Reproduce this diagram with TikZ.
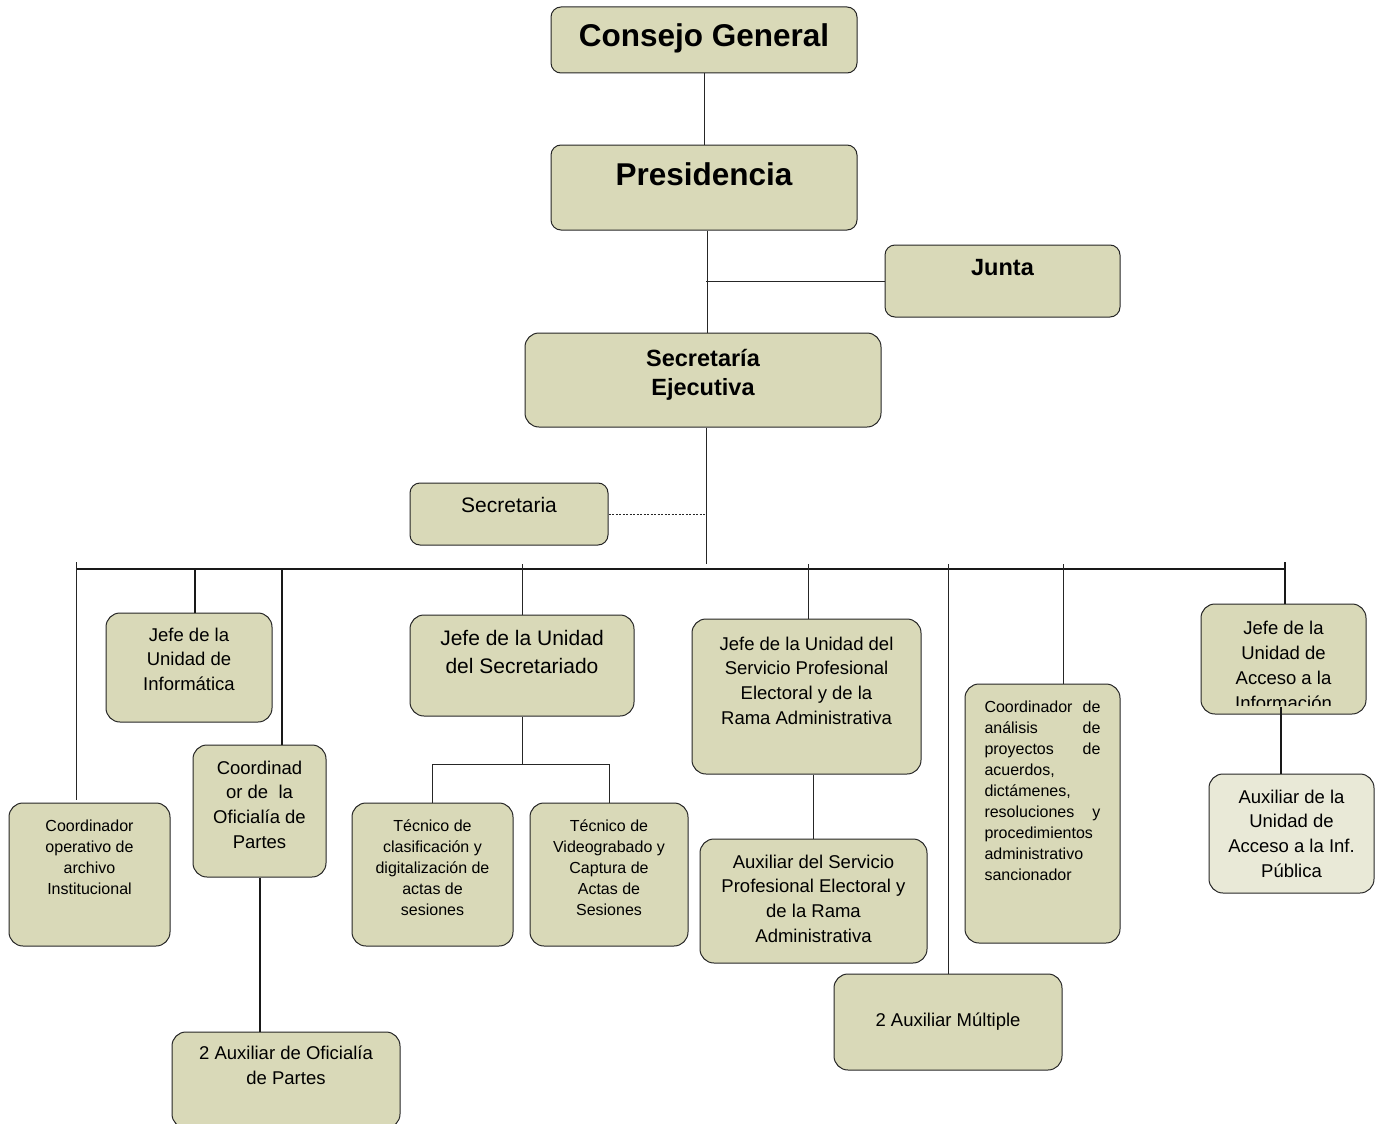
\documentclass[tikz,border=0pt]{standalone}
\usepackage{fontspec}
\setmainfont{Liberation Sans}
\usepackage{xcolor}
\usepackage{tikz}
\usetikzlibrary{positioning,calc}

\definecolor{boxfill}{RGB}{217,217,184}
\definecolor{boxlight}{RGB}{233,233,215}

\begin{document}
\begin{tikzpicture}[x=1pt, y=-1pt,
  ob/.style={draw=black!85, line width=1pt, fill=boxfill, rounded corners=14pt, inner sep=0pt},
  lb/.style={anchor=north, align=center, inner sep=0pt},
  fbig/.style={font=\fontsize{31.5}{38}\selectfont\bfseries},
  fbold/.style={font=\fontsize{23.5}{29}\selectfont\bfseries},
  flarge/.style={font=\fontsize{21}{28}\selectfont},
  fmid/.style={font=\fontsize{18.5}{24.8}\selectfont},
  fsmall/.style={font=\fontsize{16}{21}\selectfont},
  ln/.style={line width=1pt, black!85},
  lnthick/.style={line width=2pt, black!90},
  bus/.style={line width=2.5pt, black!90}]
  \useasboundingbox (0,0) rectangle (1385,1124);

  % upper levels
  \node[ob, rounded corners=10pt, minimum width=306pt, minimum height=66pt,
    label={[lb, fbig, yshift=-17pt]north:Consejo General}] (cg) at (704,40) {};
  \node[ob, rounded corners=10pt, minimum width=306pt, minimum height=85pt,
    label={[lb, fbig, yshift=-18pt]north:Presidencia}] (pres) at (704,187.5) {};
  \node[ob, rounded corners=10pt, minimum width=235pt, minimum height=72pt,
    label={[lb, fbold, yshift=-15pt]north:Junta}] (junta) at (1002.5,281) {};
  \node[ob, minimum width=356pt, minimum height=94pt,
    label={[lb, fbold, yshift=-17pt]north:{Secretaría\\Ejecutiva}}] (sej) at (703,380) {};
  \node[ob, rounded corners=10pt, minimum width=198pt, minimum height=62pt,
    label={[lb, flarge, yshift=-15pt]north:Secretaria}] (sec) at (509,514) {};

  % bus
  \coordinate (busL) at (76,569);
  \coordinate (busR) at (1285,569);
  \coordinate (busT) at (0,564);

  % units
  \node[ob, minimum width=166pt, minimum height=109pt,
    label={[lb, fmid, yshift=-15pt]north:{Jefe de la\\Unidad de\\Informática}}] (inf) at (189,667.5) {};
  \node[ob, minimum width=133pt, minimum height=132pt,
    label={[lb, fmid, yshift=-16pt]north:{Coordinad\\or de~ la\\Oficialía de\\Partes}}] (ofi) at (259.5,811) {};
  \node[ob, minimum width=161pt, minimum height=143pt,
    label={[lb, fsmall, yshift=-17pt]north:{Coordinador\\operativo de\\archivo\\Institucional}}] (arc) at (89.5,874.5) {};
  \node[ob, minimum width=228pt, minimum height=96pt,
    label={[lb, fmid, yshift=-14pt]north:{2 Auxiliar de Oficialía\\de Partes}}] (auxofi) at (286,1080) {};
  \node[ob, minimum width=224pt, minimum height=101pt,
    label={[lb, flarge, yshift=-15.5pt]north:{Jefe de la Unidad\\del Secretariado}}] (sria) at (522,665.5) {};
  \node[ob, minimum width=161pt, minimum height=143pt,
    label={[lb, fsmall, yshift=-17pt]north:{Técnico de\\clasificación y\\digitalización de\\actas de\\sesiones}}] (tcl) at (432.5,874.5) {};
  \node[ob, minimum width=158pt, minimum height=143pt,
    label={[lb, fsmall, yshift=-17pt]north:{Técnico de\\Videograbado y\\Captura de\\Actas de\\Sesiones}}] (tvi) at (609,874.5) {};
  \node[ob, minimum width=229pt, minimum height=155pt,
    label={[lb, fmid, yshift=-18pt]north:{Jefe de la Unidad del\\Servicio Profesional\\Electoral y de la\\Rama Administrativa}}] (spe) at (806.5,696.5) {};
  \node[ob, minimum width=227pt, minimum height=124pt,
    label={[lb, fmid, yshift=-16pt]north:{Auxiliar del Servicio\\Profesional Electoral y\\de la Rama\\Administrativa}}] (auxspe) at (813.5,901) {};
  \node[ob, minimum width=228pt, minimum height=96pt,
    label={[lb, fmid, yshift=-39pt]north:{2 Auxiliar Múltiple}}] (mult) at (948,1022) {};
  \node[ob, minimum width=155pt, minimum height=259pt,
    label={[lb, fsmall, align=left, text width=116pt, yshift=-17pt]north:{Coordinador\hfill de\\análisis\hfill de\\proyectos\hfill de\\acuerdos,\\dictámenes,\\resoluciones\hfill y\\procedimientos\\administrativo\\sancionador}}] (ana) at (1042.5,813.5) {};
  % text frame cut at the bottom
  \node[ob, minimum width=165pt, minimum height=110pt,
    path picture={
      \clip (path picture bounding box.north west) rectangle ([yshift=9pt]path picture bounding box.south east);
      \node[lb, fmid, yshift=-6pt] at (path picture bounding box.north)
      {Jefe de la\\Unidad de\\Acceso a la\\Información};}] (acc) at (1283.5,659) {};
  \node[ob, fill=boxlight, minimum width=165pt, minimum height=119pt,
    label={[lb, fmid, yshift=-16pt]north:{Auxiliar de la\\Unidad de\\Acceso a la Inf.\\Pública}}] (auxacc) at (1291.5,833.5) {};

  % connectors
  \draw[ln] (cg.south) -- (pres.north);
  \draw[ln] ([xshift=3pt]pres.south) -- ([xshift=3pt]pres.south |- sej.north);
  \draw[ln] ([xshift=2pt]pres.south |- junta.west) -- (junta.west);
  \draw[ln] ([xshift=3pt]sej.south) -- ([xshift=3pt]sej.south |- busT);
  \draw[ln, dash pattern=on 2pt off 1.5pt] (sec.east) -- ([xshift=3pt]sej.south |- sec.east);
  \draw[bus] (busL) -- (busR);
  \draw[ln] ([yshift=7pt]busL) -- ([yshift=3pt]busL |- arc.north);
  \draw[lnthick] ([xshift=6pt]inf.north |- busL) -- ([xshift=6pt]inf.north);
  \draw[lnthick] ([xshift=22.5pt]ofi.north |- busL) -- ([xshift=22.5pt]ofi.north);
  \draw[lnthick] (ofi.south) -- (ofi.south |- auxofi.north);
  \draw[ln] (sria.north |- busT) -- (sria.north);
  \draw[ln] (sria.south) -- ++(0,48) coordinate (sj);
  \draw[ln] (tcl.north) |- (sj) -| (tvi.north);
  \draw[ln] ([xshift=2pt]spe.north |- busT) -- ([xshift=2pt]spe.north);
  \draw[ln] (auxspe.north |- spe.south) -- (auxspe.north);
  \draw[ln] (mult.north |- busT) -- (mult.north);
  \draw[ln] ([xshift=20.5pt]ana.north |- busT) -- ([xshift=20.5pt]ana.north);
  \draw[lnthick] ([yshift=7pt]busR) -- (busR |- acc.north);
  \draw[lnthick] ([xshift=-2.5pt,yshift=8pt]acc.south) -- ([xshift=-2.5pt]acc.south |- auxacc.north);
\end{tikzpicture}
\end{document}
